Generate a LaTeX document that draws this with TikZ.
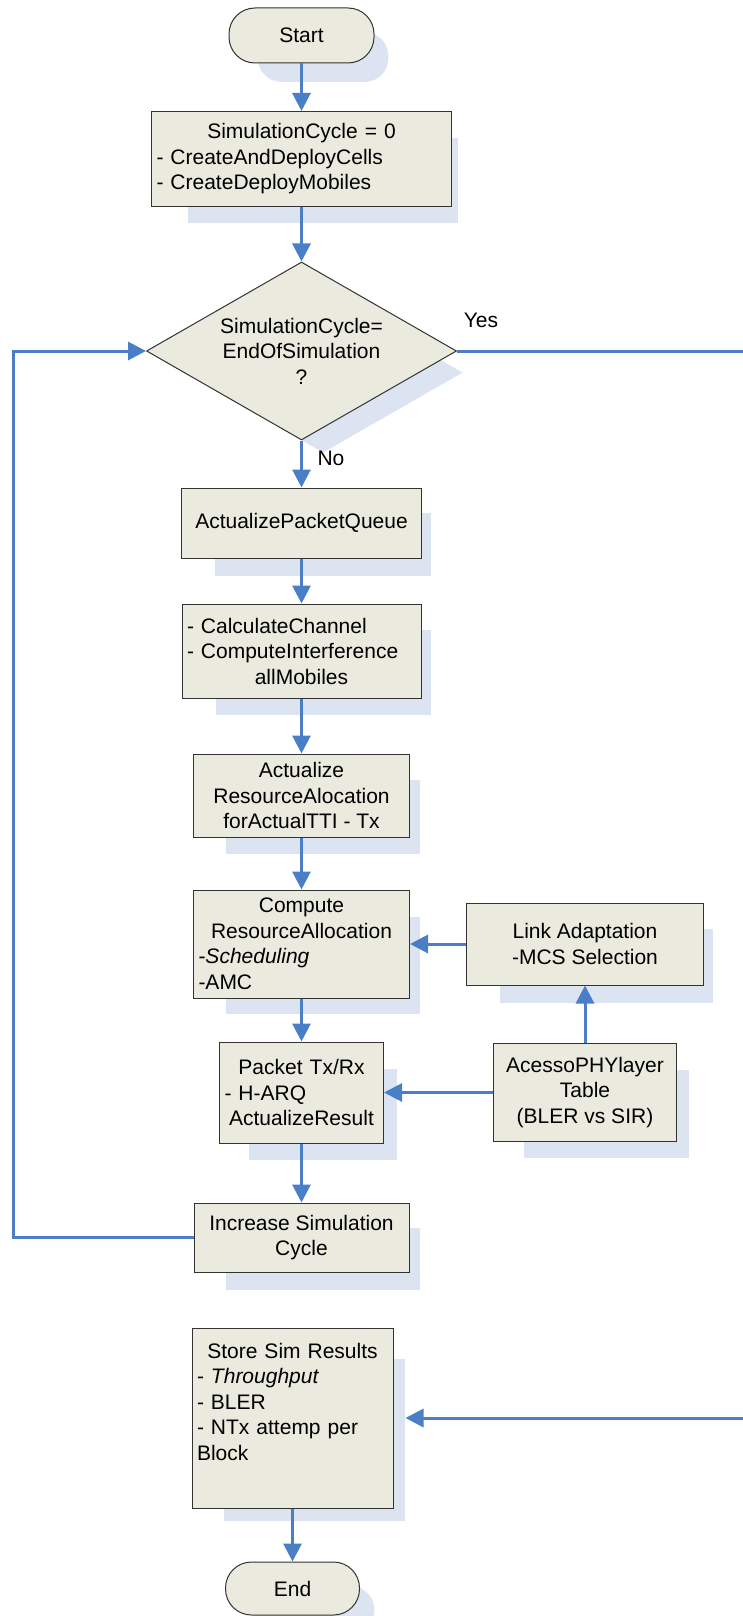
\documentclass[tikz,border=0pt]{standalone}
\usepackage{fontspec}
\setmainfont{Liberation Sans}
\usetikzlibrary{shapes.geometric,arrows.meta,shadows}
\definecolor{boxfill}{HTML}{EAEADF}
\definecolor{shadowcol}{HTML}{DDE4F1}
\definecolor{flowblue}{HTML}{4A7EC6}
\definecolor{boxline}{HTML}{333333}
\newcommand\ctrline[1]{\leavevmode\hspace*{\fill}#1\hspace*{\fill}\null}
\begin{document}
\begin{tikzpicture}[x=1pt,y=-1pt,
  base/.style={draw=boxline, line width=1pt, fill=boxfill, inner sep=0pt, align=center,
    font=\fontsize{21}{25.5}\selectfont,
    general shadow={fill=shadowcol, shadow scale=0.9, shadow xshift=24pt, shadow yshift=-24pt}},
  proc/.style={base, rectangle},
  term/.style={base, rectangle, rounded corners=26pt},
  decide/.style={base, diamond, aspect=1.74},
  flow/.style={draw=flowblue, line width=3pt},
  arr/.style={flow, -{Triangle[length=18pt,width=18pt]}},
  lbl/.style={font=\fontsize{21}{25.5}\selectfont, inner sep=0pt}
]
\useasboundingbox (0,0) rectangle (742,1616);

\node[term, minimum width=145pt, minimum height=55pt] (start) at (301.5,35.5) {Start};
\node[proc, minimum width=300pt, minimum height=95pt, text width=290pt, align=left] (init) at (301.5,159)
  {\ctrline{SimulationCycle = 0}\\- CreateAndDeployCells\\- CreateDeployMobiles};
\node[decide, minimum width=310pt, minimum height=178pt] (cond) at (301.5,351)
  {SimulationCycle=\\EndOfSimulation\\?};
\node[proc, minimum width=240pt, minimum height=70pt] (apq) at (301.5,523) {ActualizePacketQueue};
\node[proc, minimum width=239pt, minimum height=94pt, text width=229pt, align=left] (calc) at (301.5,651)
  {- CalculateChannel\\- ComputeInterference\\\ctrline{allMobiles}};
\node[proc, minimum width=216pt, minimum height=83pt] (act) at (301.5,795.5)
  {Actualize\\ResourceAlocation\\forActualTTI - Tx};
\node[proc, minimum width=216pt, minimum height=108pt, text width=206pt, align=left] (comp) at (301.5,944)
  {\ctrline{Compute}\\\ctrline{ResourceAllocation}\\-\textit{Scheduling}\\-AMC};
\node[proc, minimum width=237pt, minimum height=82pt] (link) at (585,944)
  {Link Adaptation\\-MCS Selection};
\node[proc, minimum width=164pt, minimum height=101pt, text width=154pt, align=left] (pkt) at (301.5,1092.5)
  {\ctrline{Packet Tx/Rx}\\- H-ARQ\\\ctrline{ActualizeResult}};
\node[proc, minimum width=183pt, minimum height=98pt] (acesso) at (585,1092.5)
  {AcessoPHYlayer\\Table\\(BLER vs SIR)};
\node[proc, minimum width=215pt, minimum height=69pt] (inc) at (301.5,1237.5)
  {Increase Simulation\\Cycle};
\node[proc, minimum width=201pt, minimum height=180pt, text width=191pt, align=left] (store) at (292.5,1418)
  {\ctrline{Store Sim Results}\\- \textit{Throughput}\\- BLER\\- NTx attemp per\\Block\\\strut};
\node[term, minimum width=134pt, minimum height=53pt] (end) at (292.5,1588.5) {End};

\node[lbl] (yes) at (481,320) {Yes};
\node[lbl] (no) at (331,458) {No};

\coordinate (lft) at (13.5,1237.5);
\coordinate (rgtA) at (746,351);
\coordinate (rgtB) at (746,1418);

\draw[arr] (start) -- (init);
\draw[arr] (init) -- (cond);
\draw[arr] (cond) -- (apq);
\draw[arr] (apq) -- (calc);
\draw[arr] (calc) -- (act);
\draw[arr] (act) -- (comp);
\draw[arr] (comp) -- (pkt);
\draw[arr] (pkt) -- (inc);
\draw[arr] (link) -- (comp);
\draw[arr] (acesso) -- (link);
\draw[arr] (acesso) -- (pkt);
\draw[arr] (inc.west) -- (inc.west -| lft) |- (cond.west);
\draw[flow] (cond.east) -- (rgtA);
\draw[arr, shorten >=12pt] (rgtB) -- (store.east);
\draw[arr] (store) -- (end);
\end{tikzpicture}
\end{document}
